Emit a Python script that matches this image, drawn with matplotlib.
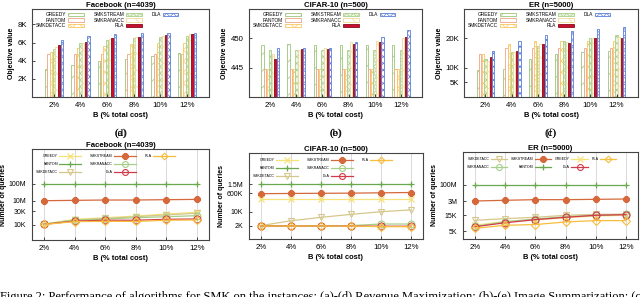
import numpy as np
import matplotlib
matplotlib.use("Agg")
import matplotlib.pyplot as plt
from matplotlib.lines import Line2D
from matplotlib.patches import Patch

plt.rcParams['font.family'] = ['Liberation Sans', 'DejaVu Sans']
plt.rcParams['hatch.linewidth'] = 0.5

# x categories
budgets = ["2%", "4%", "6%", "8%", "10%", "12%"]
algos = ["GREEDY", "FANTOM", "SMKDETACC", "SMKSTREAM", "SMKRANACC", "RLA", "DLA"]

# objective values (top row)
fb_obj = {
    "GREEDY":    [3.1, 3.5, 4.0, 4.2, 4.5, 4.8],
    "FANTOM":    [4.7, 4.7, 4.7, 4.7, 4.7, 4.7],
    "SMKDETACC": [5.0, 5.4, 5.6, 5.8, 6.0, 6.0],
    "SMKSTREAM": [5.3, 5.95, 6.3, 6.5, 6.6, 6.75],
    "SMKRANACC": [5.5, 6.0, 6.4, 6.6, 6.75, 6.9],
    "RLA":       [5.7, 6.1, 6.5, 6.6, 6.8, 6.9],
    "DLA":       [6.3, 6.75, 6.9, 7.1, 7.1, 7.1],
}
cifar_obj = {
    "GREEDY":    [448.9, 449.1, 448.8, 448.9, 448.9, 448.9],
    "FANTOM":    [444.8, 444.8, 444.8, 444.8, 444.8, 444.8],
    "SMKDETACC": [444.8, 444.8, 444.8, 444.8, 444.8, 444.8],
    "SMKSTREAM": [448.0, 448.0, 448.0, 448.0, 448.0, 448.0],
    "SMKRANACC": [447.4, 448.0, 448.4, 449.3, 449.5, 450.0],
    "RLA":       [446.5, 448.1, 448.1, 449.0, 449.4, 450.3],
    "DLA":       [448.3, 448.3, 448.3, 449.3, 450.2, 451.4],
}
er_obj = {
    "GREEDY":    [9.1, 9.7, 13.1, 14.8, 15.4, 15.7],
    "FANTOM":    [14.8, 16.7, 16.7, 16.7, 16.7, 16.7],
    "SMKDETACC": [14.8, 17.9, 19.0, 19.0, 19.0, 19.0],
    "SMKSTREAM": [13.1, 15.4, 17.4, 19.0, 20.1, 21.0],
    "SMKRANACC": [12.2, 15.4, 17.9, 18.8, 20.1, 20.4],
    "RLA":       [13.5, 15.6, 18.1, 18.5, 20.1, 20.2],
    "DLA":       [15.7, 19.2, 21.1, 22.4, 23.3, 23.8],
}

# number of queries (bottom row)
fb_q = {
    "GREEDY":    [10.5e3, 15.5e3, 17.5e3, 20e3, 23.5e3, 27e3],
    "FANTOM":    [1e8, 1e8, 1e8, 1e8, 1e8, 1e8],
    "SMKDETACC": [10.5e3, 14.5e3, 16.5e3, 19e3, 22e3, 25e3],
    "SMKSTREAM": [10e6, 10.5e6, 11e6, 11e6, 11.5e6, 12e6],
    "SMKRANACC": [10.5e3, 14.3e3, 15.8e3, 17.5e3, 19e3, 20.6e3],
    "DLA":       [10.3e3, 13.4e3, 14.3e3, 14.3e3, 15.4e3, 15.8e3],
    "RLA":       [10.2e3, 12.8e3, 13.1e3, 13e3, 14.3e3, 14.6e3],
}
cifar_q = {
    "GREEDY":    [157e3, 157e3, 157e3, 157e3, 157e3, 157e3],
    "FANTOM":    [1.5e6, 1.5e6, 1.5e6, 1.5e6, 1.5e6, 1.5e6],
    "SMKDETACC": [2.1e3, 3.6e3, 5.3e3, 7.4e3, 10e3, 15e3],
    "SMKSTREAM": [550e3, 580e3, 600e3, 610e3, 630e3, 650e3],
    "SMKRANACC": [2.05e3, 2.05e3, 2.05e3, 2.1e3, 2.5e3, 2.5e3],
    "DLA":       [2e3, 2e3, 2e3, 2e3, 1.95e3, 1.95e3],
    "RLA":       [2e3, 2e3, 2e3, 2e3, 1.85e3, 1.85e3],
}
er_q = {
    "SMKDETACC": [10.4e3, 11.7e3, 12.8e3, 14.7e3, 19e3, 21e3],
    "SMKRANACC": [6.9e3, 9.5e3, 11.4e3, 13.4e3, 14.7e3, 19e3],
    "SMKSTREAM": [3.0e6, 3.5e6, 4.0e6, 4.0e6, 4.3e6, 4.6e6],
    "FANTOM":    [1e8, 1e8, 1e8, 1e8, 1e8, 1e8],
    "GREEDY":    [7.5e3, 9.5e3, 10.6e3, 12.5e3, 14e3, 14.7e3],
    "DLA":       [6.7e3, 8.8e3, 10.9e3, 12.8e3, 14.7e3, 17e3],
    "RLA":       [6.0e3, 7.4e3, 7.8e3, 9.3e3, 10.2e3, 10.2e3],
}

# bar styles
bar_style = {
    "GREEDY":    dict(facecolor="white", edgecolor="#9cc57a", hatch="//"),
    "FANTOM":    dict(facecolor="white", edgecolor="#f0a484", hatch=None),
    "SMKDETACC": dict(facecolor="white", edgecolor="#fbc55e", hatch="xxx"),
    "SMKSTREAM": dict(facecolor="#eef5e4", edgecolor="#a9cf8a", hatch="xxxxx"),
    "SMKRANACC": dict(facecolor="white", edgecolor="#f1d992", hatch="\\\\"),
    "RLA":       dict(facecolor="#c8102e", edgecolor="#8b0a1a", hatch=None),
    "DLA":       dict(facecolor="white", edgecolor="#5b7fd6", hatch="xxxxx"),
}
# line styles
line_style = {
    "GREEDY":    dict(color="#f6e27a", marker="x", mfc="none", ms=5, mew=0.9),
    "FANTOM":    dict(color="#6aa84f", marker="+", mfc="none", ms=5, mew=0.9),
    "SMKDETACC": dict(color="#d6c88c", marker="v", mfc="none", ms=5, mew=0.8),
    "SMKSTREAM": dict(color="#d5693c", marker="8", mfc="#d5693c", ms=5, mew=0.8),
    "SMKRANACC": dict(color="#a6cf88", marker="o", mfc="none", ms=5, mew=0.8),
    "DLA":       dict(color="#d23a4a", marker="o", mfc="none", ms=5, mew=0.8),
    "RLA":       dict(color="#f7bd3c", marker="D", mfc="none", ms=4, mew=0.8),
}

W, H = 640, 297
fig = plt.figure(figsize=(W / 100, H / 100), dpi=100)


def px_axes(l, t, r, b):
    return fig.add_axes([l / W, 1 - b / H, (r - l) / W, (b - t) / H])


def style_axes(ax):
    for s in ax.spines.values():
        s.set_linewidth(0.8)
        s.set_color("#444444")
    ax.tick_params(direction="in", length=2, width=0.5, labelsize=5.6, pad=3.5,
                   top=False, right=False)
    ax.set_xlabel("B (% total cost)", fontsize=5.4, fontweight="bold", labelpad=2.5)


def sub_label(ax, text):
    pos = ax.get_position()
    fig.text(pos.x0 + pos.width / 2, 1 - 133 / H, text, ha="center", va="center",
             fontsize=8, family="Liberation Serif")


def bar_panel(rect, data, title, ylim, yticks, ytlabels, label):
    ax = px_axes(*rect)
    x = np.arange(len(budgets))
    w = 0.1
    for i, a in enumerate(algos):
        st = bar_style[a]
        ax.bar(x + (i - 3) * w, np.array(data[a]) - ylim[0], w * 0.85,
               bottom=ylim[0], linewidth=0.6, label=a, **st)
    ax.set_xlim(-0.82, 5.82)
    ax.set_ylim(*ylim)
    ax.set_yticks(yticks)
    ax.set_yticklabels(ytlabels)
    ax.set_xticks(x)
    ax.set_xticklabels(budgets)
    ax.set_title(title, fontsize=5.6, fontweight="bold", pad=1.5)
    ax.set_ylabel("Objective value", fontsize=5, fontweight="bold", labelpad=2)
    style_axes(ax)
    h, l = ax.get_legend_handles_labels()
    blank = Patch(facecolor="none", edgecolor="none")
    hh = h + [blank, blank]
    ll = l + ["", ""]
    wid = rect[2] - rect[0]
    hgt = rect[3] - rect[1]
    ax.legend(hh, ll, ncol=3, loc="upper left", bbox_to_anchor=(4 / wid, 1 - 3 / hgt),
              fontsize=3.5, frameon=False, markerfirst=False, handlelength=3.2,
              handleheight=0.6, columnspacing=2.0, labelspacing=0.15,
              handletextpad=0.4, borderpad=0.0, borderaxespad=0.0)
    sub_label(ax, label)
    return ax


def make_funcs(vals, pos):
    lx = np.log10(vals)
    py = np.array(pos, dtype=float)

    def fwd(v):
        l = np.log10(np.clip(np.asarray(v, dtype=float), 1e-12, None))
        out = np.interp(l, lx, py)
        out = np.where(l < lx[0], py[0] + (l - lx[0]) * (py[1] - py[0]) / (lx[1] - lx[0]), out)
        out = np.where(l > lx[-1], py[-1] + (l - lx[-1]) * (py[-1] - py[-2]) / (lx[-1] - lx[-2]), out)
        return out

    def inv(p):
        p = np.asarray(p, dtype=float)
        out = np.interp(p, py, lx)
        out = np.where(p < py[0], lx[0] + (p - py[0]) * (lx[1] - lx[0]) / (py[1] - py[0]), out)
        out = np.where(p > py[-1], lx[-1] + (p - py[-1]) * (lx[-1] - lx[-2]) / (py[-1] - py[-2]), out)
        return 10 ** out

    return fwd, inv


def line_panel(rect, data, title, tvals, tpos, tlabels, legend_order, ncol, hlen, cspace, label):
    ax = px_axes(*rect)
    hgt = rect[3] - rect[1]
    wid = rect[2] - rect[0]
    fwd, inv = make_funcs(tvals, tpos)
    ax.set_yscale("function", functions=(fwd, inv))
    x = np.arange(len(budgets))
    handles = {}
    for a in ["FANTOM", "SMKSTREAM", "GREEDY", "SMKDETACC", "SMKRANACC", "DLA", "RLA"]:
        st = line_style[a]
        ln, = ax.plot(x, data[a], color=st["color"], lw=0.9, marker=st["marker"],
                      mfc=st["mfc"], mec=st["color"], ms=st["ms"], mew=st["mew"],
                      label=a, zorder=3)
        handles[a] = ln
    ax.set_xlim(-0.4, 5.4)
    ax.set_ylim(float(inv(0)), float(inv(hgt)))
    ax.set_yticks(tvals)
    ax.set_yticklabels(tlabels)
    ax.minorticks_off()
    ax.set_xticks(x)
    ax.set_xticklabels(budgets)
    ax.grid(axis="x", color="#cccccc", linewidth=0.5)
    ax.set_axisbelow(True)
    ax.set_title(title, fontsize=5.6, fontweight="bold", pad=1.5)
    style_axes(ax)
    ax.tick_params(axis="y", labelsize=5, pad=4)
    ax.set_ylabel("Number of queries", fontsize=5, fontweight="bold", labelpad=1.5)
    blank = Line2D([], [], color="none")
    hh = [handles[a] if a else blank for a in legend_order]
    ll = [a for a in legend_order]
    ax.legend(hh, ll, ncol=ncol, loc="upper left", bbox_to_anchor=(4 / wid, 1 - 5 / hgt),
              fontsize=2.6, frameon=False, markerfirst=False, handlelength=hlen,
              columnspacing=cspace, labelspacing=1.1, handletextpad=0.4,
              borderpad=0.0, borderaxespad=0.0, markerscale=0.85)
    sub_label(ax, label)
    return ax


# top row: objective value bars
bar_panel((32, 9, 209, 97), fb_obj, "Facebook (n=4039)", (0, 9.7),
          [2, 4, 6, 8], ["2K", "4K", "6K", "8K"], "(a)")
bar_panel((249, 9, 422, 97), cifar_obj, "CIFAR-10 (n=500)", (440, 455),
          [445, 450], ["445", "450"], "(b)")
bar_panel((464, 9, 638, 97), er_obj, "ER (n=5000)", (0, 30),
          [5, 10, 20], ["5K", "10K", "20K"], "(c)")

# bottom row: number of queries
order_de = ["GREEDY", "FANTOM", "SMKDETACC", "SMKSTREAM", "SMKRANACC", "DLA", "RLA", "", ""]
line_panel((32, 149, 209, 240), fb_q, "Facebook (n=4039)",
           [1e4, 3e4, 1e7, 1e8], [15.3, 29, 39.3, 56], ["10K", "30K", "10M", "100M"],
           order_de, 3, 6, 2.5, "(d)")
line_panel((249, 153, 423, 239), cifar_q, "CIFAR-10 (n=500)",
           [2e3, 1e4, 6e5, 1.5e6], [13, 27.3, 45.7, 54.7], ["2K", "10K", "600K", "1.5M"],
           order_de, 3, 6, 2.5, "(e)")
order_f = ["SMKDETACC", "SMKRANACC", "SMKSTREAM", "FANTOM", "GREEDY", "DLA", "RLA", ""]
line_panel((463, 152, 638, 239), er_q, "ER (n=5000)",
           [5e3, 15e3, 3e6, 1e8], [8, 24, 38, 54.3], ["5K", "15K", "3M", "100M"],
           order_f, 4, 4.5, 1.0, "(f)")

# caption, cut off at the bottom edge
fig.text(0.0, 1 - 300 / H, "Figure 2: Performance of algorithms for SMK on the instances: "
         "(a)-(d) Revenue Maximization; (b)-(e) Image Summarization; (c)-(f) Influence",
         ha="left", va="baseline", fontsize=9, family="Liberation Serif")

fig.savefig("out.png", dpi=100)
